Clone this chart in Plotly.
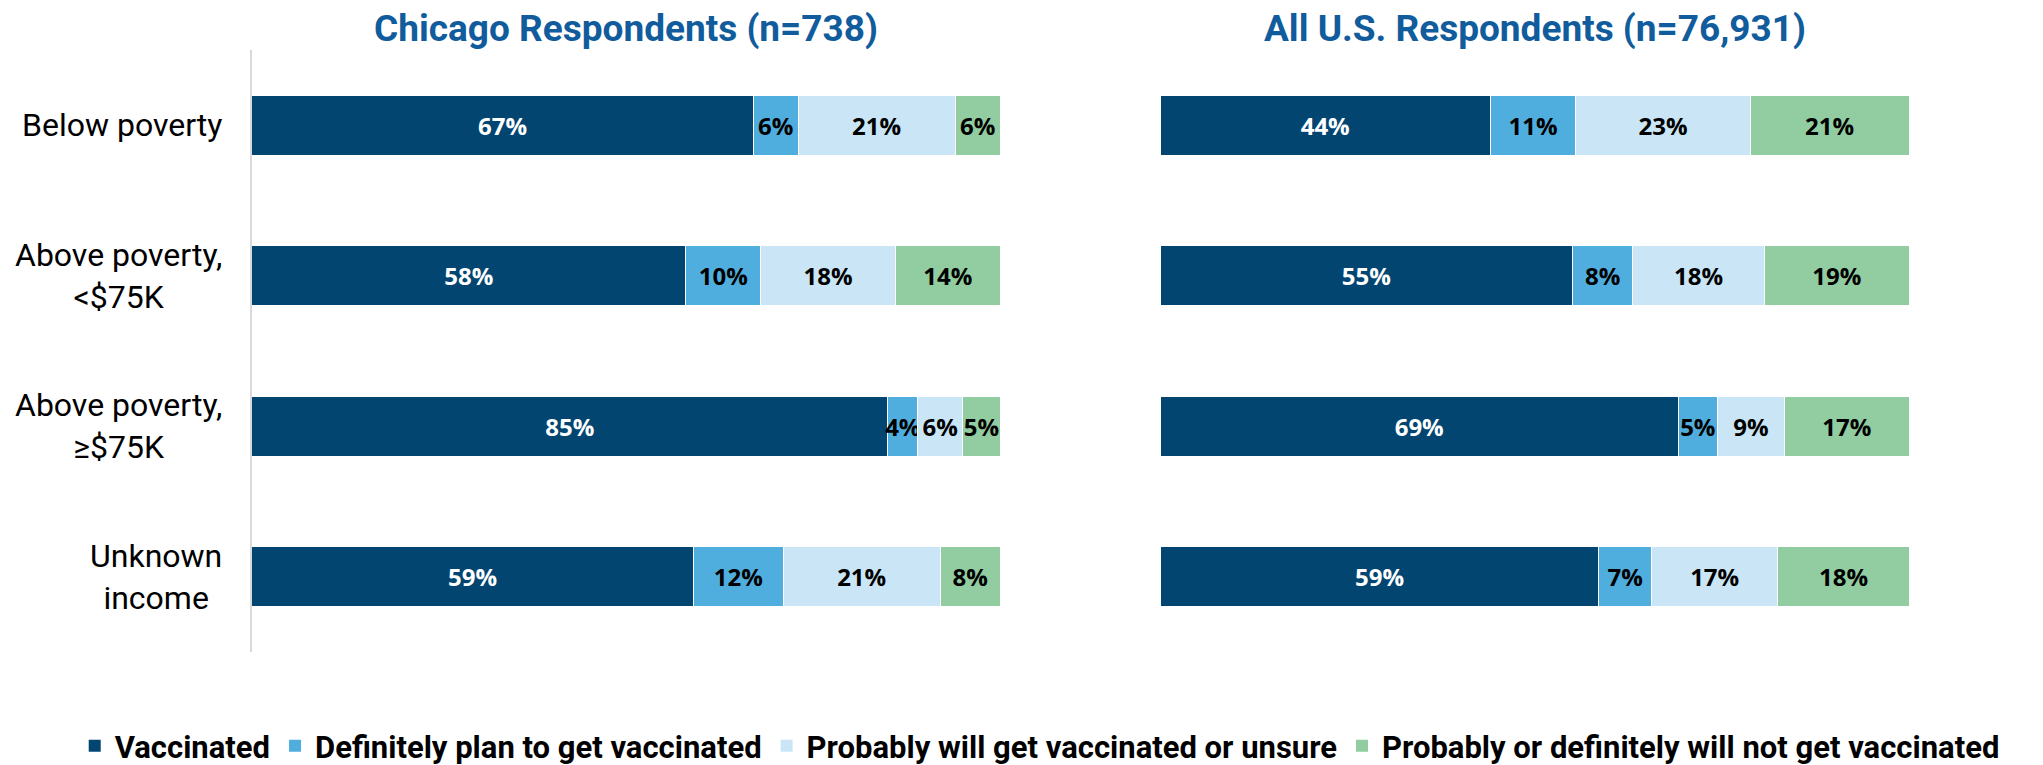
import plotly.graph_objects as go

# income groups, top to bottom
groups = ["Below poverty", "Above poverty,<br>&lt;$75K", "Above poverty,<br>≥$75K", "Unknown<br>income"]

statuses = [
    "Vaccinated",
    "Definitely plan to get vaccinated",
    "Probably will get vaccinated or unsure",
    "Probably or definitely will not get vaccinated",
]
colors = ["#024571", "#50aedf", "#cae6f6", "#91cda1"]
text_colors = ["white", "black", "black", "black"]

# percent of respondents, one list per status (rows follow `groups`)
chicago_vaccinated = [67, 58, 85, 59]
chicago_plan = [6, 10, 4, 12]
chicago_probably = [21, 18, 6, 21]
chicago_not = [6, 14, 5, 8]

us_vaccinated = [44.1, 55.1, 69.2, 58.6]
us_plan = [11.4, 8.0, 5.2, 7.0]
us_probably = [23.3, 17.6, 9.0, 16.9]
us_not = [21.2, 19.3, 16.6, 17.5]

chicago = [chicago_vaccinated, chicago_plan, chicago_probably, chicago_not]
us = [us_vaccinated, us_plan, us_probably, us_not]

panel_titles = ["Chicago Respondents (n=738)", "All U.S. Respondents (n=76,931)"]

fig = go.Figure()

for panel, (data, xa, ya) in enumerate([(chicago, "x", "y"), (us, "x2", "y2")]):
    for i, name in enumerate(statuses):
        fig.add_trace(go.Bar(
            x=data[i], y=groups, orientation="h",
            name=name, showlegend=False,
            marker=dict(color=colors[i], line=dict(color="white", width=1)),
            width=0.4,
            texttemplate="%{x:.0f}%", textposition="inside",
            insidetextanchor="middle", textangle=0, constraintext="none",
            textfont=dict(family="Open Sans", size=24, color=text_colors[i], weight="bold"),
            xaxis=xa, yaxis=ya, hoverinfo="skip",
        ))

# legend entries with bigger square swatches than the bar default
for i, name in enumerate(statuses):
    fig.add_trace(go.Scatter(
        x=[None], y=[None], mode="markers", name=name,
        marker=dict(symbol="square", size=18, color=colors[i]),
    ))

# page renders with an 8px body margin, so domains are nudged left
left_dom = [0.1194, 0.4856]
right_dom = [0.5639, 0.9305]

fig.update_layout(
    barmode="stack",
    width=2043, height=765,
    margin=dict(l=0, r=0, t=42, b=119),
    paper_bgcolor="white", plot_bgcolor="white",
    font=dict(family="Roboto", color="black"),
    xaxis=dict(domain=left_dom, range=[0, 100], visible=False),
    xaxis2=dict(domain=right_dom, range=[0, 100], visible=False),
    yaxis=dict(categoryorder="array", categoryarray=groups[::-1], showticklabels=False,
               showline=True, linecolor="#d9d9d9", linewidth=2, ticks="", showgrid=False),
    yaxis2=dict(anchor="x2", categoryorder="array", categoryarray=groups[::-1],
                showticklabels=False, showline=False, ticks="", showgrid=False),
    legend=dict(orientation="h", x=0.505, xanchor="center", y=-0.157, yanchor="middle",
                font=dict(size=31, weight="bold"), itemsizing="constant",
                traceorder="normal", itemwidth=30),
    bargap=0.6,
)

# row labels, centred text to the left of the Chicago panel
for g in groups:
    fig.add_annotation(x=left_dom[0], xref="paper", y=g, yref="y", xanchor="right",
                       xshift=-28, align="center", showarrow=False, text=g,
                       font=dict(size=32, color="black"))

# panel titles
for t, dom in zip(panel_titles, [left_dom, right_dom]):
    fig.add_annotation(x=(dom[0] + dom[1]) / 2, xref="paper", xanchor="center",
                       y=1.035, yref="paper", yanchor="middle", showarrow=False,
                       text="<b>" + t + "</b>", font=dict(size=37, color="#105c9c"))

fig.write_html("out.html")
